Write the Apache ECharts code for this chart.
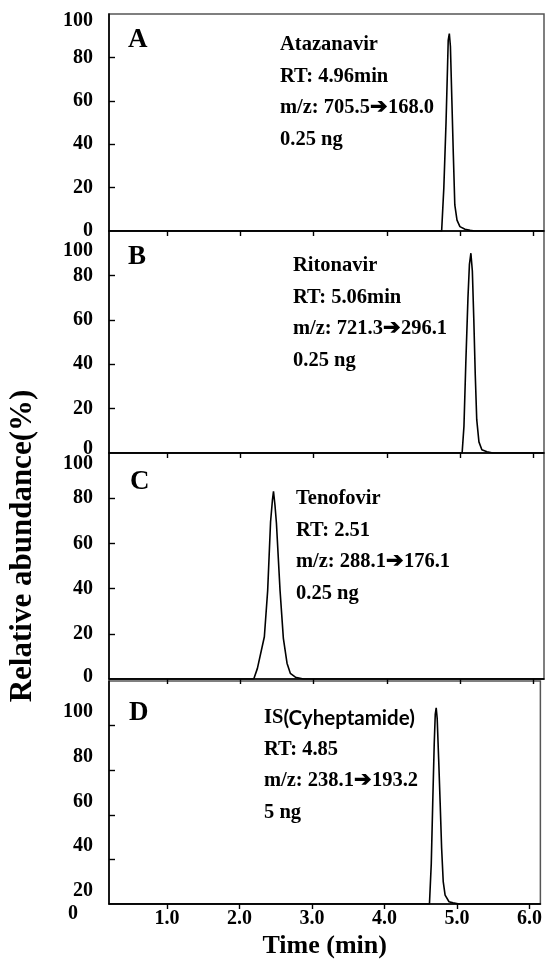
<!DOCTYPE html>
<html><head><meta charset="utf-8">
<script src="https://cdn.jsdelivr.net/npm/echarts@6/dist/echarts.min.js"></script>
<style>html,body{margin:0;padding:0;background:#fff}#c{width:545px;height:960px}</style>
</head><body><div id="c"></div>
<script>
// ---- data ----
const timeA = [0.2, 4.75, 4.78, 4.81, 4.83, 4.84, 4.855, 4.87, 4.89, 4.91, 4.93, 4.96, 5.0, 5.07, 5.14, 5.2, 6.15];
const abundA = [0, 0, 20, 50, 75, 88, 91, 85, 60, 35, 12, 5, 2, 0.8, 0.3, 0, 0];
const timeB = [0.2, 5.03, 5.055, 5.08, 5.11, 5.13, 5.15, 5.17, 5.19, 5.21, 5.23, 5.26, 5.30, 5.37, 5.45, 6.15];
const abundB = [0, 0, 12, 40, 70, 85, 90, 82, 60, 35, 15, 5, 1.5, 0.6, 0, 0];
const timeC = [0.2, 2.18, 2.23, 2.325, 2.37, 2.41, 2.435, 2.45, 2.47, 2.49, 2.54, 2.585, 2.635, 2.68, 2.75, 2.86, 6.15];
const abundC = [0, 0, 4.7, 18.7, 39, 69.6, 79, 83, 77, 69, 39, 18, 7, 2.5, 0.8, 0, 0];
const timeD = [0.2, 4.62, 4.645, 4.665, 4.686, 4.70, 4.713, 4.727, 4.747, 4.768, 4.788, 4.81, 4.836, 4.89, 4.945, 5.03, 6.15];
const abundD = [0, 0, 18, 45, 72, 85, 88, 83, 65, 45, 25, 10, 4, 1, 0.5, 0, 0];

const xTickValues = [1, 2, 3, 4, 5, 6];
const xTickLabels = ['1.0', '2.0', '3.0', '4.0', '5.0', '6.0'];
const yTickValues = [20, 40, 60, 80];
// label anchor values (as placed in the picture) and their texts
const yLabelPosA = [0, 20, 40, 60, 80, 97];
const yLabelPosB = [2, 20, 40, 60, 80, 91];
const yLabelPosC = [1, 20, 40, 60, 80, 95];
const yLabelPosD = [6, 26, 46, 66, 86];
const yLabelText = ['0', '20', '40', '60', '80', '100'];
const yLabelTextD = ['20', '40', '60', '80', '100'];

const panelLetters = ['A', 'B', 'C', 'D'];
const panelNotes = [
  ['Atazanavir', 'RT: 4.96min', 'm/z: 705.5\u2794168.0', '0.25 ng'],
  ['Ritonavir', 'RT: 5.06min', 'm/z: 721.3\u2794296.1', '0.25 ng'],
  ['Tenofovir', 'RT: 2.51', 'm/z: 288.1\u2794176.1', '0.25 ng'],
  ['{s|IS}{ss|(Cyheptamide)}', 'RT: 4.85', 'm/z: 238.1\u2794193.2', '5 ng']
];

// ---- layout ----
const SERIF = '"Liberation Serif", "Times New Roman", serif';
const grids = [
  {left: 109, right: 1, top: 14, height: 217},
  {left: 109, right: 1, top: 231, height: 222},
  {left: 109, right: 1, top: 453, height: 226},
  {left: 109, right: 1, top: 681, height: 225}
];
const notePos = [
  {x: 280, y: 45, lx: 128, ly: 40},
  {x: 293, y: 266, lx: 128, ly: 257},
  {x: 296, y: 499, lx: 130, ly: 482},
  {x: 264, y: 718, lx: 129, ly: 713}
];
const labelPos = [yLabelPosA, yLabelPosB, yLabelPosC, yLabelPosD];
const labelTexts = [yLabelText, yLabelText, yLabelText, yLabelTextD];
const times = [timeA, timeB, timeC, timeD];
const abunds = [abundA, abundB, abundC, abundD];

const chart = echarts.init(document.getElementById('c'), null, {renderer: 'canvas'});

const option = {
  animation: false,
  backgroundColor: '#fff',
  grid: grids.map(g => Object.assign({show: true, borderColor: '#555', borderWidth: 1.5, backgroundColor: 'transparent'}, g)),
  xAxis: grids.map((g, i) => ({
    type: 'value', gridIndex: i, min: 0.2, max: 6.15,
    splitLine: {show: false},
    axisLine: {show: true, onZero: false, lineStyle: {color: '#000', width: 1.6}},
    axisTick: {show: true, inside: false, length: 5, customValues: xTickValues, lineStyle: {color: '#000', width: 1.4}},
    axisLabel: {show: i === 3, customValues: xTickValues, margin: 5,
      formatter: v => xTickLabels[xTickValues.indexOf(Math.round(v))] || '',
      fontFamily: SERIF, fontWeight: 'bold', fontSize: 20, color: '#000'},
    name: i === 3 ? 'Time (min)' : '', nameLocation: 'middle', nameGap: 29,
    nameTextStyle: {fontFamily: SERIF, fontWeight: 'bold', fontSize: 26, color: '#000'}
  })),
  yAxis: grids.map((g, i) => ({
    type: 'value', gridIndex: i, min: 0, max: 100,
    splitLine: {show: false},
    axisLine: {show: true, lineStyle: {color: '#000', width: 1.6}},
    axisTick: {show: true, inside: true, length: 6, customValues: yTickValues, lineStyle: {color: '#000', width: 1.4}},
    axisLabel: {show: true, customValues: labelPos[i], margin: 16,
      formatter: v => {
        const k = labelPos[i].indexOf(v);
        return k >= 0 ? labelTexts[i][k] : '';
      },
      fontFamily: SERIF, fontWeight: 'bold', fontSize: 20, color: '#000'}
  })),
  series: grids.map((g, i) => ({
    type: 'line', xAxisIndex: i, yAxisIndex: i, showSymbol: false, smooth: false,
    lineStyle: {color: '#000', width: 1.6}, clip: true,
    data: times[i].map((t, k) => [t, abunds[i][k]])
  })),
  graphic: []
};
chart.setOption(option);

// text annotations
const g = [];
notePos.forEach((p, i) => {
  g.push({type: 'text', x: p.lx, y: p.ly, style: {text: panelLetters[i], fontFamily: SERIF, fontWeight: 'bold', fontSize: 27, fill: '#000', textVerticalAlign: 'middle'}});
  panelNotes[i].forEach((t, k) => {
    g.push({type: 'text', x: p.x, y: p.y + k * 31.5, style: {
      text: t, fontFamily: SERIF, fontWeight: 'bold', fontSize: 20.5, fill: '#000', textVerticalAlign: 'middle',
      rich: {s: {fontFamily: SERIF, fontWeight: 'bold', fontSize: 20.5, fill: '#000'},
             ss: {fontFamily: 'Lato, "Open Sans", sans-serif', fontWeight: 'bold', fontSize: 20.5, fill: '#000'}}
    }});
  });
});
// y-axis title
g.push({type: 'text', x: 23, y: 546, rotation: Math.PI / 2, style: {
  text: 'Relative abundance(%)', fontFamily: SERIF, fontWeight: 'bold', fontSize: 31, fill: '#000',
  textAlign: 'center', textVerticalAlign: 'middle'}});
// the lone "0" below panel D's axis corner
const p0 = chart.convertToPixel({xAxisIndex: 3, yAxisIndex: 3}, [0.2, 0]);
g.push({type: 'text', x: p0[0] - 36, y: p0[1] + 10, style: {text: '0', fontFamily: SERIF, fontWeight: 'bold', fontSize: 20, fill: '#000', textAlign: 'center', textVerticalAlign: 'middle'}});
chart.setOption({graphic: g});
</script>
</body></html>
